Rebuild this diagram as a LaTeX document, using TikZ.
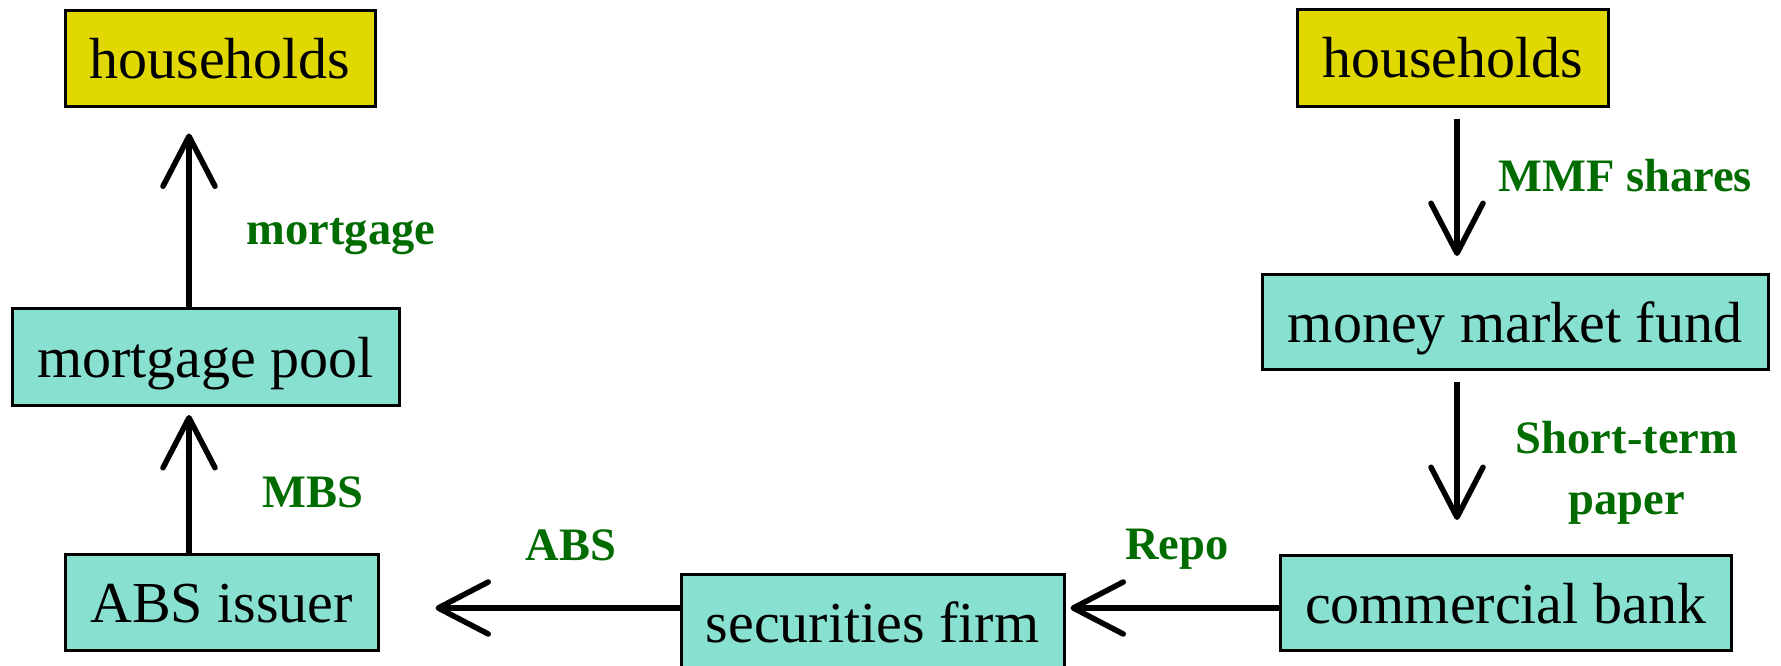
\documentclass[tikz,border=0pt]{standalone}
\usepackage{fontspec}
\setmainfont{Liberation Serif}
\usetikzlibrary{arrows.meta}
\definecolor{boxyellow}{RGB}{224,216,0}
\definecolor{boxcyan}{RGB}{136,224,208}
\definecolor{lblgreen}{RGB}{0,108,0}
\tikzset{
  boxbase/.style={draw=black, line width=3pt, inner sep=0pt, text height=40pt, text depth=0pt,
    font=\fontsize{58}{60}\selectfont},
  ybox/.style={boxbase, fill=boxyellow},
  cbox/.style={boxbase, fill=boxcyan},
  lbl/.style={text=lblgreen, inner sep=0pt, align=center, font=\fontsize{46.5}{61}\selectfont\bfseries},
  arr/.style={line width=5.5pt, -{Straight Barb[length=50pt,width=52pt,round]}}
}
\begin{document}
\begin{tikzpicture}[x=1pt,y=-1pt]
\useasboundingbox (0,0) rectangle (1781,666);
% nodes
\node[ybox, minimum width=310pt, minimum height=96pt] (hh1) at (220,59) {households};
\node[cbox, minimum width=387pt, minimum height=97pt] (mp) at (205.5,357) {mortgage pool};
\node[cbox, minimum width=313pt, minimum height=96pt] (ai) at (221.5,602.5) {ABS issuer};
\node[cbox, minimum width=383pt, minimum height=96pt] (sf) at (872.5,622) {securities firm};
\node[cbox, minimum width=451pt, minimum height=95pt] (cb) at (1505.5,603) {commercial bank};
\node[cbox, minimum width=506pt, minimum height=95pt] (mmf) at (1515,322) {money market fund};
\node[ybox, minimum width=311pt, minimum height=97pt] (hh2) at (1452.5,58) {households};
% labels
\node[lbl] (lmort) at (341,237) {mortgage};
\node[lbl] (lmbs) at (313,492) {MBS};
\node[lbl] (labs) at (571,545) {ABS};
\node[lbl] (lrepo) at (1177,549) {Repo};
\node[lbl] (lmmf) at (1625,176) {MMF shares};
\node[lbl] (lstp) at (1627,473) {Short-term\\paper};
% helper coordinates
\coordinate (lx) at (189,0);
\coordinate (rx) at (1457,0);
\coordinate (ay) at (0,608);
% connectors
\draw[arr, shorten >=25pt] (mp.north -| lx) -- (hh1.south -| lx);
\draw[arr, shorten >=8pt] (ai.north -| lx) -- (mp.south -| lx);
\draw[arr, shorten >=56pt] (sf.west |- ay) -- (ai.east |- ay);
\draw[arr, shorten >=5pt] (cb.west |- ay) -- (sf.east |- ay);
\draw[arr, shorten <=11pt, shorten >=17pt] (hh2.south -| rx) -- (mmf.north -| rx);
\draw[arr, shorten <=11pt, shorten >=34pt] (mmf.south -| rx) -- (cb.north -| rx);
\end{tikzpicture}
\end{document}
